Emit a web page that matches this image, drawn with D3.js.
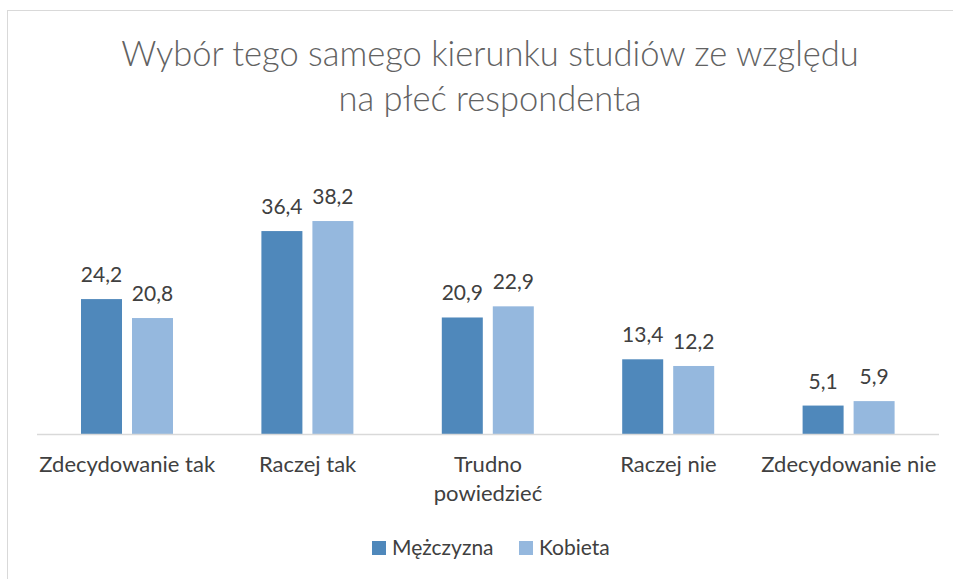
<!DOCTYPE html>
<html>
<head>
<meta charset="utf-8">
<script src="https://cdn.jsdelivr.net/npm/d3@7"></script>
<style>
  body { margin: 0; background: #fff; }
  text { font-family: Lato, "Open Sans", sans-serif; }
</style>
</head>
<body>
<div id="chart"></div>
<script>
const categories = ["Zdecydowanie tak", "Raczej tak", "Trudno powiedzieć", "Raczej nie", "Zdecydowanie nie"];
const categoryLines = [["Zdecydowanie tak"], ["Raczej tak"], ["Trudno", "powiedzieć"], ["Raczej nie"], ["Zdecydowanie nie"]];
const seriesNames = ["Mężczyzna", "Kobieta"];
const men = [24.2, 36.4, 20.9, 13.4, 5.1];
const women = [20.8, 38.2, 22.9, 12.2, 5.9];
const colors = ["#4f88bb", "#95b8de"];

const width = 953, height = 579;

const svg = d3.select("#chart")
  .append("svg")
  .attr("width", width)
  .attr("height", height);

// chart frame
svg.append("rect")
  .attr("x", 7.5)
  .attr("y", 10.5)
  .attr("width", 960)
  .attr("height", 600)
  .attr("fill", "none")
  .attr("stroke", "#d9d9d9");

svg.append("text")
  .attr("x", 490)
  .attr("y", 66)
  .attr("text-anchor", "middle")
  .attr("fill", "#626262")
  .attr("font-size", "34.5px")
  .attr("font-weight", 300)
  .text("Wybór tego samego kierunku studiów ze względu");

svg.append("text")
  .attr("x", 490)
  .attr("y", 111)
  .attr("text-anchor", "middle")
  .attr("fill", "#626262")
  .attr("font-size", "34.5px")
  .attr("font-weight", 300)
  .text("na płeć respondenta");

const x0 = d3.scaleBand()
  .domain(categories)
  .range([37, 939]);

const x1 = d3.scaleBand()
  .domain(seriesNames)
  .range([44, 136])
  .paddingInner(0.196);

const y = d3.scaleLinear()
  .domain([0, 40])
  .range([434, 211]);

const data = categories.map((c, i) => ({
  category: c,
  values: [
    { series: seriesNames[0], value: men[i] },
    { series: seriesNames[1], value: women[i] }
  ]
}));

const groups = svg.append("g")
  .selectAll("g")
  .data(data)
  .join("g")
  .attr("transform", d => `translate(${x0(d.category)},0)`);

groups.selectAll("rect")
  .data(d => d.values)
  .join("rect")
  .attr("x", d => x1(d.series))
  .attr("y", d => y(d.value))
  .attr("width", x1.bandwidth())
  .attr("height", d => y(0) - y(d.value))
  .attr("fill", (d, i) => colors[i]);

groups.selectAll("text.value")
  .data(d => d.values)
  .join("text")
  .attr("class", "value")
  .attr("x", d => x1(d.series) + x1.bandwidth() / 2)
  .attr("y", d => y(d.value) - 17)
  .attr("text-anchor", "middle")
  .attr("fill", "#404040")
  .attr("font-size", "21px")
  .text(d => d3.format(".1f")(d.value).replace(".", ","));

// category axis
svg.append("line")
  .attr("x1", 37)
  .attr("x2", 939)
  .attr("y1", 434.5)
  .attr("y2", 434.5)
  .attr("stroke", "#d9d9d9")
  .attr("stroke-width", 1.5);

svg.append("g")
  .selectAll("text")
  .data(categories)
  .join("text")
  .attr("x", d => x0(d) + x0.bandwidth() / 2)
  .attr("y", 472)
  .attr("text-anchor", "middle")
  .attr("fill", "#404040")
  .attr("font-size", "22px")
  .each(function(d, i) {
    d3.select(this).selectAll("tspan")
      .data(categoryLines[i])
      .join("tspan")
      .attr("x", x0(d) + x0.bandwidth() / 2)
      .attr("dy", (t, j) => j === 0 ? 0 : 29)
      .text(t => t);
  });

// legend
const legend = svg.append("g")
  .selectAll("g")
  .data(seriesNames)
  .join("g")
  .attr("transform", (d, i) => `translate(${i === 0 ? 372 : 519},541)`);

legend.append("rect")
  .attr("width", 14)
  .attr("height", 14)
  .attr("fill", (d, i) => colors[i]);

legend.append("text")
  .attr("x", 20)
  .attr("y", 14)
  .attr("fill", "#404040")
  .attr("font-size", "21px")
  .text(d => d);
</script>
</body>
</html>
